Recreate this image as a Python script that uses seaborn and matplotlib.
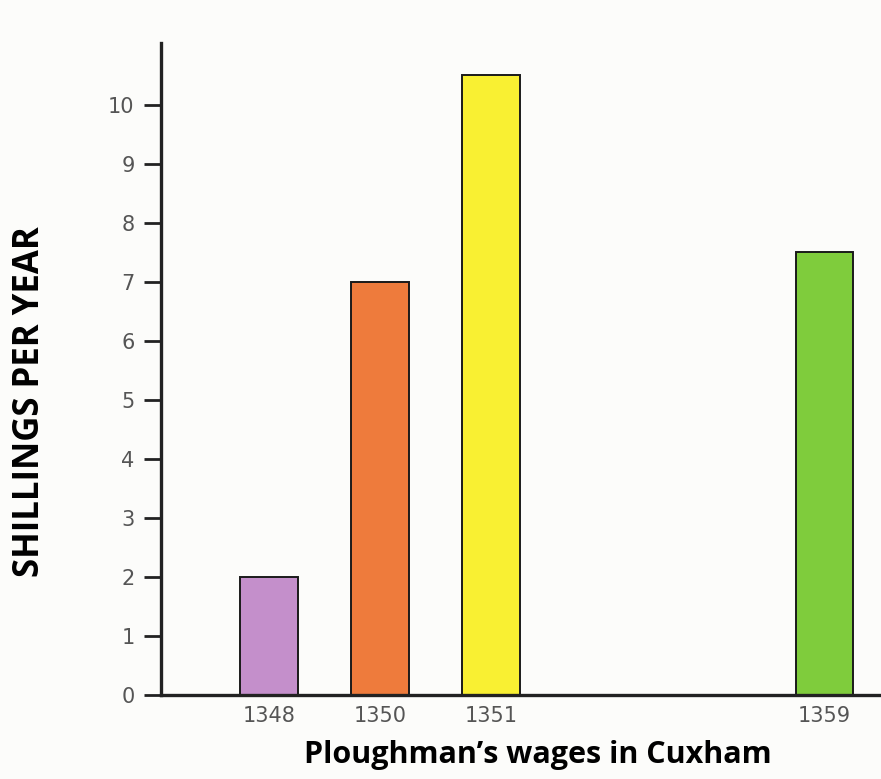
import pandas as pd
import seaborn as sns
import matplotlib.pyplot as plt

# datos
anios = ["1348", "1350", "1351", "1359"]
chelines = [2, 7, 10.5, 7.5]
colores = ["#C48FCB", "#EE7B3C", "#F9F032", "#7FCC3C"]

# huecos para dejar el espacio entre 1351 y 1359
orden = ["1348", "1350", "1351", "", " ", "1359"]

df = pd.DataFrame({"anio": anios, "chelines": chelines})

sns.set_style("white")
plt.rcParams["font.family"] = ["DejaVu Sans"]

fig = plt.figure(figsize=(8.81, 7.79), dpi=100, facecolor="#FCFCFA")
ax = fig.add_axes([0.1827, 0.1078, 0.8173, 0.837])
ax.set_facecolor("#FCFCFA")

sns.barplot(
    data=df,
    x="anio",
    y="chelines",
    order=orden,
    hue="anio",
    hue_order=anios,
    palette=colores,
    saturation=1,
    width=0.52,
    edgecolor="#1a1a1a",
    linewidth=1.4,
    legend=False,
    ax=ax,
)

ax.set_xlim(-0.973, 5.509)
ax.set_ylim(0, 11.05)
ax.set_yticks(range(0, 11))

for s in ["top", "right"]:
    ax.spines[s].set_visible(False)
for s in ["left", "bottom"]:
    ax.spines[s].set_linewidth(2.4)
    ax.spines[s].set_color("#222222")

ax.tick_params(axis="y", left=True, length=12, width=2, color="#222222",
               labelsize=15, labelcolor="#555555", pad=7)
ax.tick_params(axis="x", bottom=False, length=0, labelsize=15,
               labelcolor="#555555", pad=8)

ax.set_xlabel("")
ax.set_ylabel("")

fig.text(0.61, 0.031, "Ploughman\u2019s wages in Cuxham", ha="center", va="center",
         fontsize=22, fontweight="bold", color="black",
         family=["Open Sans", "DejaVu Sans"])
fig.text(0.034, 0.484, "SHILLINGS PER YEAR", ha="center", va="center",
         rotation=90, fontsize=25, fontweight="bold", color="black",
         family=["Open Sans", "DejaVu Sans"])

fig.savefig("out.png", dpi=100, facecolor=fig.get_facecolor())
